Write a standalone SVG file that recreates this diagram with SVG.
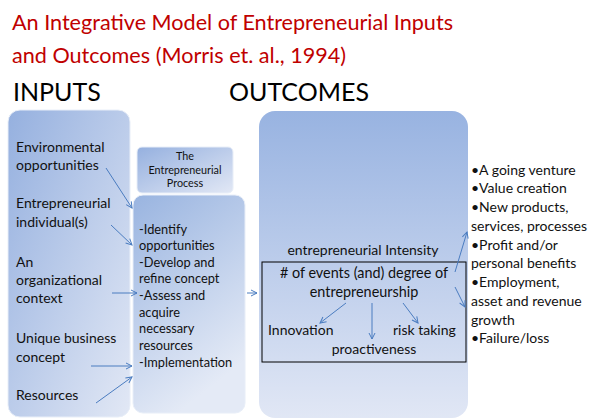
<svg xmlns="http://www.w3.org/2000/svg" width="603" height="419" viewBox="0 0 603 419">
  <style>
    .title { font-family: Lato, "Liberation Sans", sans-serif; font-size: 21.6px; fill: #c00000; }
    .head { font-family: Lato, "Liberation Sans", sans-serif; font-size: 25px; fill: #000; }
    .t14 { font-family: Lato, "Liberation Sans", sans-serif; font-size: 14px; fill: #111; }
    .t13 { font-family: Lato, "Liberation Sans", sans-serif; font-size: 12.8px; fill: #111; }
    .t9 { font-family: Lato, "Liberation Sans", sans-serif; font-size: 10.8px; fill: #111; }
    .mid { text-anchor: middle; }
    .box { stroke: #e8eef8; stroke-width: 1; }
    .arrow { stroke: #4a7cc0; stroke-width: 1; fill: none; marker-end: url(#head); }
  </style>
  <defs>
    <linearGradient id="gDiag" x1="0" y1="0" x2="1" y2="1">
      <stop offset="0" stop-color="#95b0df"/>
      <stop offset="1" stop-color="#e2e8f5"/>
    </linearGradient>
    <linearGradient id="gProc" x1="0" y1="0" x2="0.4" y2="1">
      <stop offset="0" stop-color="#99b4e0"/>
      <stop offset="1" stop-color="#e4eaf6"/>
    </linearGradient>
    <linearGradient id="gVert" x1="0" y1="0" x2="0" y2="1">
      <stop offset="0" stop-color="#98b3e1"/>
      <stop offset="1" stop-color="#e1e7f5"/>
    </linearGradient>
    <marker id="head" viewBox="0 0 8 8" refX="7" refY="4" markerWidth="8" markerHeight="8" markerUnits="userSpaceOnUse" orient="auto">
      <path d="M1,1 L7,4 L1,7" fill="none" stroke="#4a7cc0" stroke-width="1"/>
    </marker>
  </defs>

  <!-- Title and column headings -->
  <text class="title" x="12" y="30">An Integrative Model of Entrepreneurial Inputs</text>
  <text class="title" x="12" y="63">and Outcomes (Morris et. al., 1994)</text>
  <text class="head" x="13" y="101">INPUTS</text>
  <text class="head" x="229" y="101">OUTCOMES</text>

  <!-- Inputs -->
  <g id="inputs">
    <rect class="box" x="8" y="110" width="122" height="307" rx="12" fill="url(#gDiag)"/>
    <text class="t14" x="16" y="152">Environmental</text>
    <text class="t14" x="16" y="170">opportunities</text>
    <text class="t14" x="16" y="208">Entrepreneurial</text>
    <text class="t14" x="16" y="227">individual(s)</text>
    <text class="t14" x="16" y="267">An</text>
    <text class="t14" x="16" y="285">organizational</text>
    <text class="t14" x="16" y="303">context</text>
    <text class="t14" x="16" y="343">Unique business</text>
    <text class="t14" x="16" y="362">concept</text>
    <text class="t14" x="16" y="400">Resources</text>
  </g>

  <!-- Process header -->
  <g id="process-header">
    <rect class="box" x="137" y="147" width="96" height="46" rx="5" fill="url(#gDiag)"/>
    <text class="t9 mid" x="185" y="160">The</text>
    <text class="t9 mid" x="185" y="174">Entrepreneurial</text>
    <text class="t9 mid" x="185" y="187">Process</text>
  </g>

  <!-- Process steps -->
  <g id="process">
    <rect class="box" x="133" y="195" width="112" height="218" rx="10" fill="url(#gProc)"/>
    <text class="t13" x="139" y="234">-Identify</text>
    <text class="t13" x="139" y="250">opportunities</text>
    <text class="t13" x="139" y="267">-Develop and</text>
    <text class="t13" x="139" y="283">refine concept</text>
    <text class="t13" x="139" y="300">-Assess and</text>
    <text class="t13" x="139" y="317">acquire</text>
    <text class="t13" x="139" y="333">necessary</text>
    <text class="t13" x="139" y="350">resources</text>
    <text class="t13" x="139" y="367">-Implementation</text>
  </g>

  <!-- Outcomes -->
  <g id="outcomes">
    <rect x="259" y="111" width="209" height="307" rx="16" fill="url(#gVert)"/>
    <text class="t14 mid" x="363" y="255">entrepreneurial Intensity</text>
    <rect x="262" y="262" width="204" height="100" fill="none" stroke="#000" stroke-width="1"/>
    <text class="t14 mid" x="364" y="278" style="font-size:14.4px"># of events (and) degree of</text>
    <text class="t14 mid" x="364" y="297" style="font-size:14.4px">entrepreneurship</text>
    <text class="t14" x="268" y="335">Innovation</text>
    <text class="t14" x="393" y="335">risk taking</text>
    <text class="t14 mid" x="374" y="354">proactiveness</text>
  </g>

  <!-- Results list -->
  <g id="results">
    <text class="t14" x="471" y="175">•A going venture</text>
    <text class="t14" x="471" y="193">•Value creation</text>
    <text class="t14" x="471" y="212">•New products,</text>
    <text class="t14" x="471" y="231">services, processes</text>
    <text class="t14" x="471" y="250">•Profit and/or</text>
    <text class="t14" x="471" y="268">personal benefits</text>
    <text class="t14" x="471" y="287">•Employment,</text>
    <text class="t14" x="471" y="306">asset and revenue</text>
    <text class="t14" x="471" y="325">growth</text>
    <text class="t14" x="471" y="343">•Failure/loss</text>
  </g>

  <!-- Connectors -->
  <g id="connectors">
    <line class="arrow" x1="106" y1="168" x2="132" y2="208"/>
    <line class="arrow" x1="111" y1="225" x2="132" y2="245"/>
    <line class="arrow" x1="112" y1="293" x2="137" y2="293"/>
    <line class="arrow" x1="91" y1="366" x2="132" y2="366"/>
    <line class="arrow" x1="96" y1="403" x2="132" y2="377"/>
    <line class="arrow" x1="247" y1="293" x2="257" y2="293"/>
    <line class="arrow" x1="346" y1="303" x2="320" y2="323"/>
    <line class="arrow" x1="372" y1="303" x2="372" y2="339"/>
    <line class="arrow" x1="403" y1="303" x2="418" y2="323"/>
    <line class="arrow" x1="455" y1="272" x2="467" y2="232"/>
    <line class="arrow" x1="455" y1="287" x2="465" y2="307"/>
  </g>
</svg>
